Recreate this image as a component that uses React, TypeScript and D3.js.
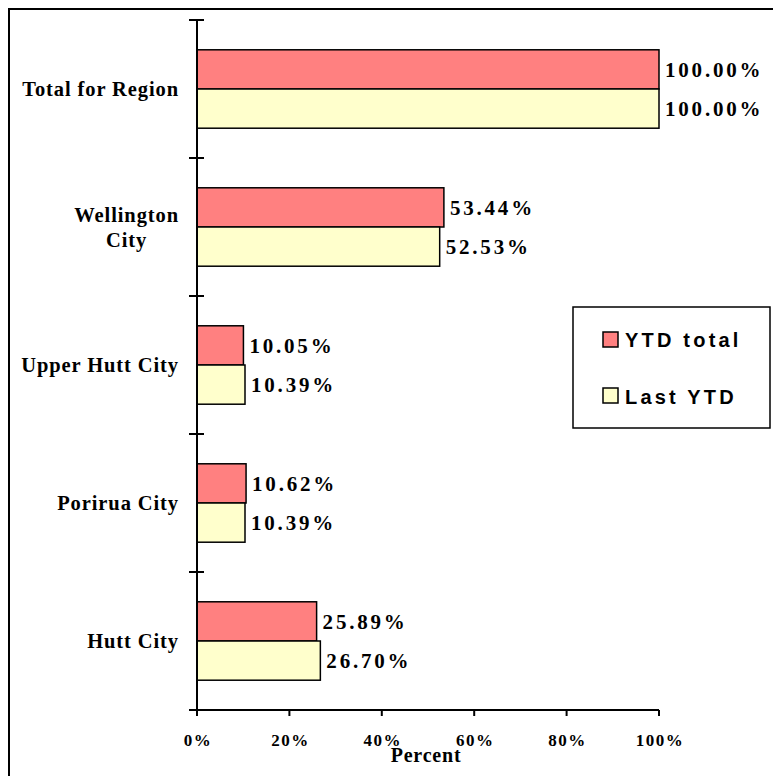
import React from "react";
import * as d3 from "d3";

const categories = ["Total for Region", "Wellington City", "Upper Hutt City", "Porirua City", "Hutt City"];
const categoryLines = [["Total for Region"], ["Wellington", "City"], ["Upper Hutt City"], ["Porirua City"], ["Hutt City"]];
const seriesNames = ["YTD total", "Last YTD"];
const ytdTotal = [1.0, 0.5344, 0.1005, 0.1062, 0.2589];
const lastYtd = [1.0, 0.5253, 0.1039, 0.1039, 0.267];
const xTicks = [0, 0.2, 0.4, 0.6, 0.8, 1.0];
const colors = ["#FF8080", "#FFFFCC"];

const SERIF = "'Liberation Serif', 'Times New Roman', serif";
const SANS = "'Liberation Sans', Arial, sans-serif";

function measure(text: string, font: string, spacing: number): number {
  if (typeof document === "undefined") return text.length * 10;
  const c = document.createElement("canvas");
  const ctx = c.getContext("2d");
  if (!ctx) return text.length * 10;
  ctx.font = font;
  return ctx.measureText(text).width + spacing * text.length;
}

export default function App() {
  const W = 773, H = 776;
  const x = d3.scaleLinear().domain([0, 1]).range([197, 659]);
  const y = d3.scaleBand<string>().domain(categories).range([20, 710]).padding(0);
  const sub = d3.scaleBand<string>().domain(seriesNames).range([0, y.bandwidth()]).paddingInner(0).paddingOuter(0.76);
  const series = [ytdTotal, lastYtd];
  const fmt = d3.format(".2%");
  const catFont = `bold 20.5px ${SERIF}`;
  const catSpacing = 0.9;
  const labelRight = 179;
  const boundaries = categories.map((c) => y(c) as number).concat([710]);

  return (
    <div style={{ position: "absolute", left: 0, top: 0 }}>
      <svg width={W} height={H} style={{ display: "block", background: "#fff" }}>
        <rect x={9} y={9} width={800} height={800} fill="#fff" stroke="#000" strokeWidth={2} />
        {/* bars */}
        {categories.map((c, i) =>
          series.map((s, j) => {
            const yy = (y(c) as number) + (sub(seriesNames[j]) as number);
            return (
              <g key={c + j}>
                <rect x={x(0)} y={yy} width={x(s[i]) - x(0)} height={sub.bandwidth()} fill={colors[j]} stroke="#000" strokeWidth={1.5} />
                <text x={x(s[i]) + 6} y={yy + sub.bandwidth() / 2 + 7.5} fontFamily={SERIF} fontWeight="bold" fontSize={21} letterSpacing={2.8} fill="#000">
                  {fmt(s[i])}
                </text>
              </g>
            );
          })
        )}
        {/* y axis */}
        <line x1={x(0)} x2={x(0)} y1={20} y2={710} stroke="#000" strokeWidth={2} />
        {boundaries.map((b, i) => (
          <line key={"yt" + i} x1={189} x2={204} y1={b} y2={b} stroke="#000" strokeWidth={2} />
        ))}
        {/* x axis */}
        <line x1={189} x2={x(1)} y1={710} y2={710} stroke="#000" strokeWidth={2} />
        {xTicks.map((t) => (
          <g key={"xt" + t}>
            <line x1={x(t)} x2={x(t)} y1={710} y2={716} stroke="#000" strokeWidth={2} />
            <text x={x(t) + 1} y={746} textAnchor="middle" fontFamily={SERIF} fontWeight="bold" fontSize={17} letterSpacing={1.5}>
              {d3.format(".0%")(t)}
            </text>
          </g>
        ))}
        <text x={426} y={762} textAnchor="middle" fontFamily={SERIF} fontWeight="bold" fontSize={20} letterSpacing={0.8}>
          Percent
        </text>
        {/* category labels */}
        {categories.map((c, i) => {
          const lines = categoryLines[i];
          const cy = (y(c) as number) + y.bandwidth() / 2;
          const lh = 25;
          const widths = lines.map((l) => measure(l, catFont, catSpacing));
          const maxW = Math.max(...widths);
          const cx = labelRight - maxW / 2;
          return lines.map((l, k) => {
            const baseline = cy + 7 + (k - (lines.length - 1) / 2) * lh;
            return (
              <text key={c + k} x={lines.length > 1 ? cx : labelRight} y={baseline} textAnchor={lines.length > 1 ? "middle" : "end"} fontFamily={SERIF} fontWeight="bold" fontSize={20.5} letterSpacing={catSpacing}>
                {l}
              </text>
            );
          });
        })}
        {/* legend */}
        <rect x={573} y={307} width={197} height={121} fill="#fff" stroke="#000" strokeWidth={1.5} />
        {seriesNames.map((n, j) => (
          <g key={n}>
            <rect x={603} y={332 + j * 56} width={15} height={15} fill={colors[j]} stroke="#000" strokeWidth={1.5} />
            <text x={625} y={347 + j * 57} fontFamily={SANS} fontWeight="bold" fontSize={20} letterSpacing={3.2}>
              {n}
            </text>
          </g>
        ))}
      </svg>
    </div>
  );
}
